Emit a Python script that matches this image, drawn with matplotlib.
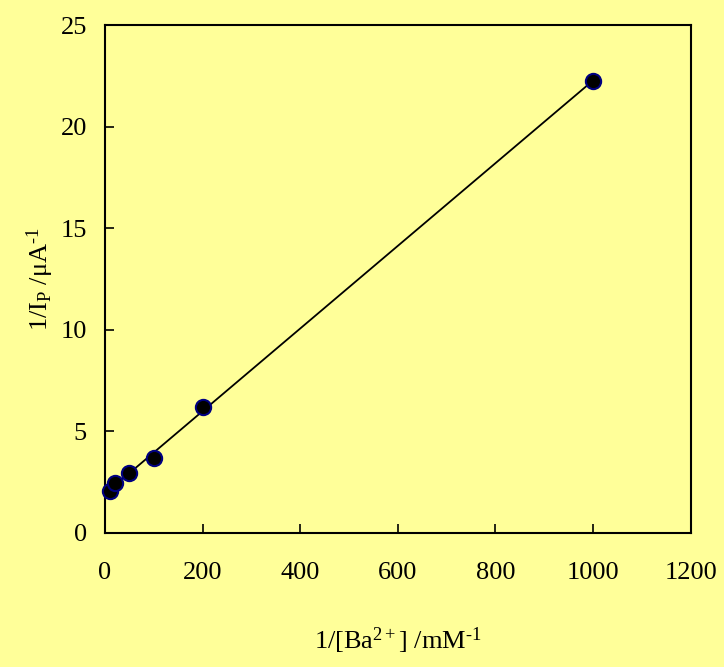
import numpy as np
import matplotlib
matplotlib.use('Agg')
import matplotlib.pyplot as plt

# Datos
inv_ba = [10, 20, 50, 100, 200, 1000]          # 1/[Ba2+] /mM^-1
inv_ip = [2.05, 2.46, 2.95, 3.71, 6.2, 22.25]   # 1/Ip /uA^-1
xticks = [0, 200, 400, 600, 800, 1000, 1200]
yticks = [0, 5, 10, 15, 20, 25]

fondo = '#FFFF99'

plt.rcParams['font.family'] = ['Liberation Serif', 'DejaVu Serif']
plt.rcParams['mathtext.fontset'] = 'custom'
plt.rcParams['mathtext.rm'] = 'Liberation Serif'
plt.rcParams['mathtext.it'] = 'Liberation Serif:italic'

fig = plt.figure(figsize=(7.24, 6.67), dpi=100, facecolor=fondo)
ax = fig.add_axes([0.145, 0.201, 0.809, 0.7615], facecolor=fondo)

# Recta de ajuste lineal
b, a = np.polyfit(inv_ba, inv_ip, 1)
xs = np.array([min(inv_ba), max(inv_ba)])
ax.plot(xs, a + b * xs, color='black', lw=1.3, zorder=2)

ax.plot(inv_ba, inv_ip, 'o', ms=11, mfc='black', mec='#000080',
        mew=1.5, zorder=3, clip_on=False)

ax.set_xlim(0, 1200)
ax.set_ylim(0, 25)
ax.set_xticks(xticks)
ax.set_yticks(yticks)
ax.tick_params(direction='in', length=6.5, width=1.2, labelsize=19,
               top=False, right=False)
ax.tick_params(axis='x', pad=21)
ax.tick_params(axis='y', pad=13)
for s in ax.spines.values():
    s.set_linewidth(1.5)

ax.set_xlabel(r'1/[Ba$^{\mathrm{2+}}$] /mM$^{\text{-1}}$', fontsize=19, labelpad=30)
ax.set_ylabel(r'1/I$_{\mathrm{P}}$ /μA$^{\text{-1}}$', fontsize=19, labelpad=3)

plt.savefig('out.png', dpi=100, facecolor=fondo)
plt.close()
